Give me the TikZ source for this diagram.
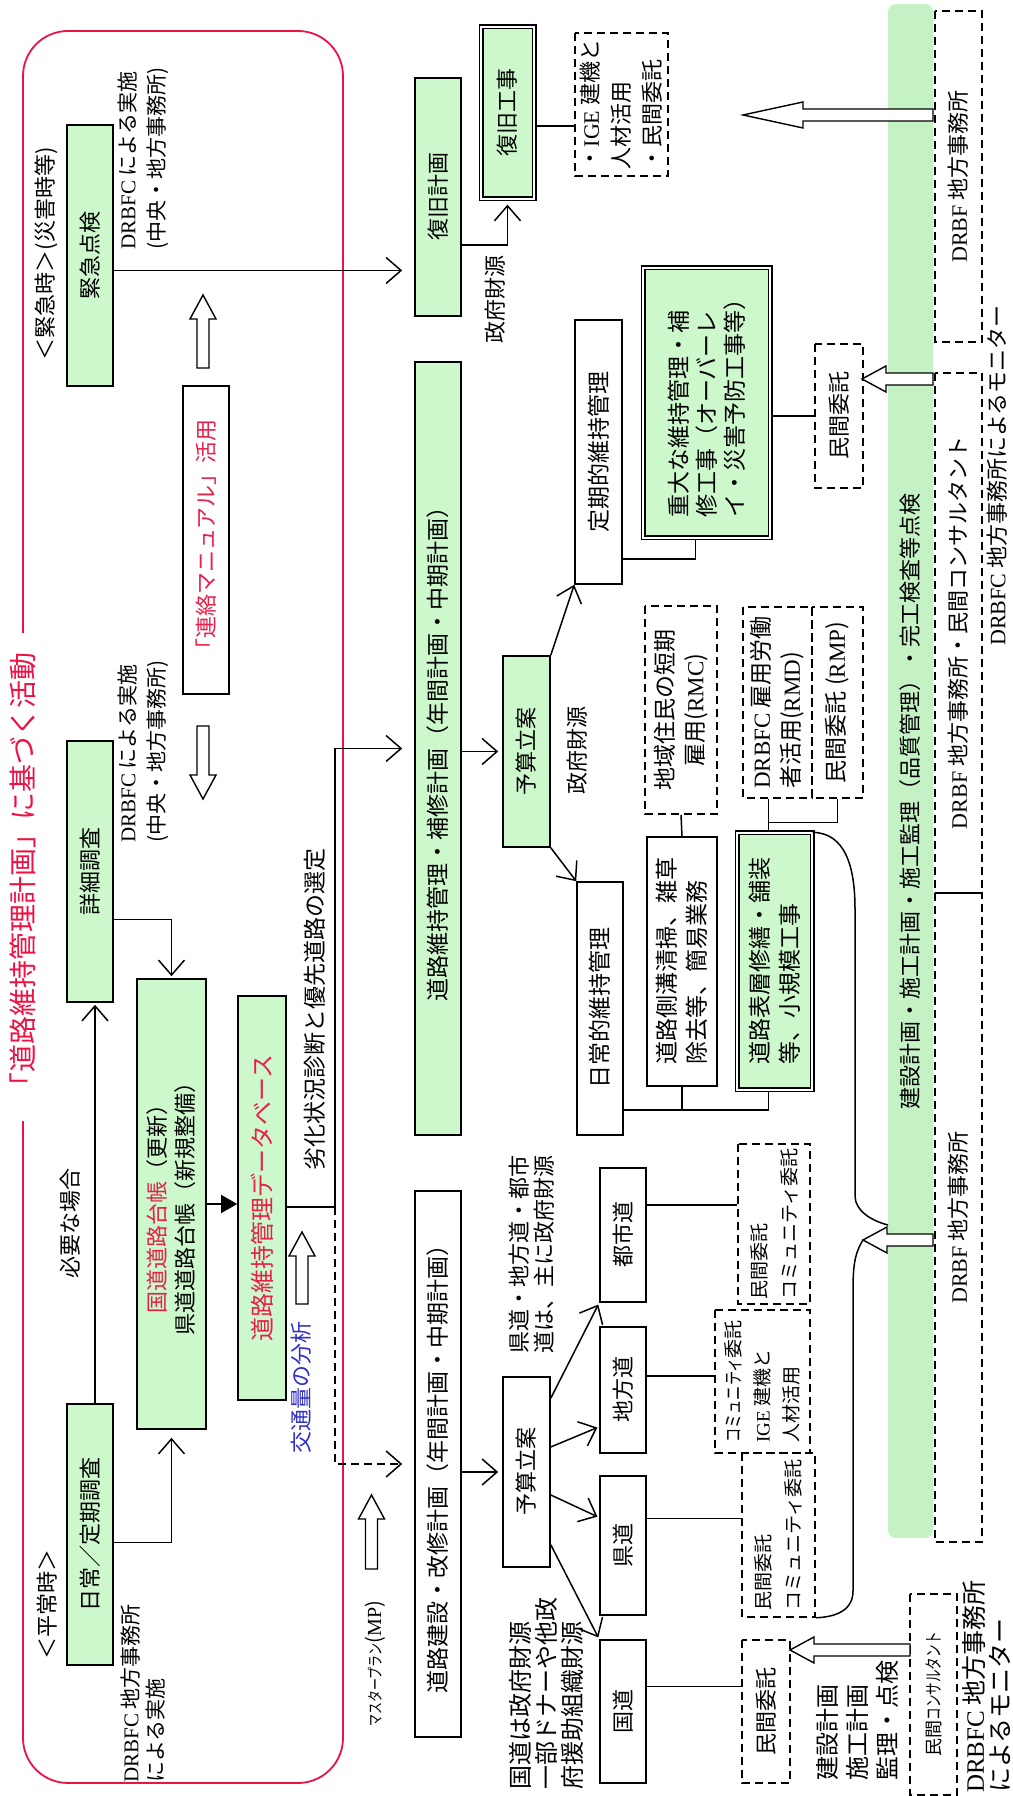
\documentclass[tikz,border=0pt]{standalone}
\usepackage{fontspec}
\setmainfont{Liberation Serif}
\newfontfamily\jpfont{Noto Sans CJK JP}
\usetikzlibrary{arrows.meta, calc}
\definecolor{boxgreen}{HTML}{CCF8CC}
\definecolor{bandgreen}{HTML}{C4F2C4}
\definecolor{framered}{HTML}{EE1144}
\definecolor{notered}{HTML}{E8204A}
\definecolor{noteblue}{HTML}{3030C8}
\newcommand{\enf}[1]{{\rmfamily #1}}
\newcommand{\fsz}[2]{\fontsize{#1}{#2}\selectfont}
% hollow block arrow: [head length] u, v, direction, length
\newcommand{\fatarrow}[5][24]{%
  \begin{scope}[shift={(#2,#3)}, rotate=#4]
    \draw[fill=white, line width=1.4pt] (0,-6) -- ({#5-#1},-6) -- ({#5-#1},-13) -- (#5,0) -- ({#5-#1},13) -- ({#5-#1},6) -- (0,6) -- cycle;
  \end{scope}%
}
\tikzset{
  boxbase/.style={draw, line width=1.6pt, inner sep=1pt, align=center, font=\jpfont\fsz{22}{28}},
  gbox/.style={boxbase, fill=boxgreen},
  wbox/.style={boxbase, fill=white},
  dblbox/.style={gbox, double=white, double distance=2.4pt, line width=1.3pt},
  dashbox/.style={boxbase, dash pattern=on 8pt off 5pt},
  txt/.style={inner sep=0pt, align=left, font=\jpfont\fsz{22}{28}},
  conn/.style={line width=1.5pt},
  arr/.style={conn, -{Straight Barb[length=15pt, width=26pt]}},
}
\begin{document}
\begin{tikzpicture}
\begin{scope}[rotate=90, transform shape, x=1pt, y=-1pt]
  \useasboundingbox (0,0) rectangle (1796,1012);

  % outer frame and title
  \draw[framered, line width=1.8pt, rounded corners=45pt] (13,23) rectangle (1765,343);
  \node[txt, text=framered, fill=white, inner xsep=20pt, inner ysep=3pt, font=\jpfont\fsz{28}{32}] (title) at (919,23) {「道路維持管理計画」に基づく活動};

  % emergency side
  \node[txt] (kinkyuji) at (1542,46) {＜緊急時＞(災害時等)};
  \node[gbox, minimum width=261pt, minimum height=46pt] (kinkyu) at (1540.5,90) {緊急点検};
  \node[txt, anchor=west, font=\jpfont\fsz{21}{29}] (jisshi1) at (1546,143) {\enf{DRBFC} による実施\\(中央・地方事務所)};
  \node[wbox, minimum width=308pt, minimum height=46pt, text=notered] (manual) at (1256,206) {「連絡マニュアル」活用};

  % normal side
  \node[txt] (heijoji) at (191,47) {＜平常時＞};
  \node[gbox, minimum width=261pt, minimum height=46pt] (nichijo) at (261.5,90) {日常／定期調査};
  \node[txt, anchor=west, font=\jpfont\fsz{21}{25}] (jisshi3) at (13,143) {\enf{DRBFC} 地方事務所\\による実施};
  \node[gbox, minimum width=261pt, minimum height=46pt] (shosai) at (924.5,90) {詳細調査};
  \node[txt, anchor=west, font=\jpfont\fsz{21}{29}] (jisshi2) at (953,143) {\enf{DRBFC} による実施\\(中央・地方事務所)};
  \node[txt] (hitsuyo) at (572,70) {必要な場合};
  \node[gbox, minimum width=450pt, minimum height=69pt] (daicho) at (592,171.5) {{\color{notered}国道道路台帳}（更新）\\県道道路台帳（新規整備）};
  \node[gbox, minimum width=404pt, minimum height=48pt, text=notered, font=\jpfont\fsz{24}{28}] (db) at (598,262) {道路維持管理データベース};
  \node[txt, font=\jpfont\fsz{23}{28}] (rekka) at (786,315) {劣化状況診断と優先道路の選定};
  \node[txt, text=noteblue] (kotsu) at (408,301) {交通量の分析};
  \coordinate (jn) at (589,335);

  % recovery
  \node[gbox, minimum width=238pt, minimum height=46pt] (fukkyu) at (1599,438) {復旧計画};
  \node[dblbox, minimum width=172pt, minimum height=53pt] (fkoji) at (1683,507.5) {復旧工事};
  \node[txt] (seifu1) at (1496,495) {政府財源};
  \node[dashbox, minimum width=143pt, minimum height=93pt, align=left, font=\jpfont\fsz{22}{31}] (ige1) at (1691.5,621.5) {・\enf{IGE} 建機と\\人材活用\\・民間委託};

  % maintenance
  \node[gbox, minimum width=773pt, minimum height=46pt, font=\jpfont\fsz{23}{28}] (ijikei) at (1047.5,438) {道路維持管理・補修計画（年間計画・中期計画）};
  \node[gbox, minimum width=191pt, minimum height=47pt] (yosan1) at (1044.5,526.5) {予算立案};
  \node[txt] (seifu2) at (1045,577) {政府財源};
  \node[wbox, minimum width=264pt, minimum height=47pt, font=\jpfont\fsz{23}{28}] (teiki) at (1344,598.5) {定期的維持管理};
  \node[dblbox, minimum width=270pt, minimum height=127pt, align=left, font=\jpfont\fsz{23}{28}] (judai) at (1393,706.5) {重大な維持管理・補\\修工事（オーバーレ\\イ・災害予防工事等）};
  \node[dashbox, minimum width=144pt, minimum height=48pt] (minkan1) at (1380,839) {民間委託};
  \node[wbox, minimum width=253pt, minimum height=46pt, font=\jpfont\fsz{23}{28}] (nichijoiji) at (787.5,600) {日常的維持管理};
  \node[wbox, minimum width=249pt, minimum height=70pt, align=left, font=\jpfont\fsz{23}{30}] (sokko) at (834.5,682) {道路側溝清掃、雑草\\除去等、簡易業務};
  \node[dashbox, minimum width=208pt, minimum height=72pt, font=\jpfont\fsz{23}{30}] (rmc) at (1086,681) {地域住民の短期\\雇用(\enf{RMC})};
  \node[dashbox, minimum width=191pt, minimum height=69pt, align=left, font=\jpfont\fsz{23}{30}] (rmd) at (1093.5,777.5) {\enf{DRBFC} 雇用労働\\者活用(\enf{RMD})};
  \node[dashbox, minimum width=191pt, minimum height=51pt, font=\jpfont\fsz{23}{28}] (rmp) at (1093.5,837.5) {民間委託 (\enf{RMP})};
  \node[dblbox, minimum width=257pt, minimum height=75pt, align=left, font=\jpfont\fsz{23}{30}] (hyoso) at (834.5,774.5) {道路表層修繕・舗装\\等、小規模工事};

  % construction
  \node[wbox, minimum width=546pt, minimum height=46pt, font=\jpfont\fsz{23}{28}] (kensetsu) at (332,438) {道路建設・改修計画（年間計画・中期計画）};
  \node[wbox, minimum width=190pt, minimum height=47pt] (yosan2) at (324,526.5) {予算立案};
  \node[txt, font=\jpfont\fsz{20}{24}] (mp) at (132.5,375) {\scalebox{0.6}[0.8]{マスタープラン}(\enf{MP})};
  \foreach \nm/\pos/\boxw/\lbl in {toshido/561/134/都市道, chihodo/406/126/地方道, kendo/250.5/139/県道, kokudo/84.5/143/国道}
    \node[wbox, minimum width=\boxw pt, minimum height=46pt] (\nm) at (\pos,623) {\lbl};
  \node[txt, font=\jpfont\fsz{22}{25}] (kenro) at (541,532) {県道・地方道・都市\\道は、主に政府財源};
  \node[txt, anchor=west, font=\jpfont\fsz{24}{26}] (kokutxt) at (6,546) {国道は政府財源\\一部ドナーや他政\\府援助組織財源};
  \node[dashbox, minimum width=160pt, minimum height=72pt, align=left, font=\jpfont\fsz{19}{30}] (itaku4) at (572,774) {民間委託\\コミュニティ委託};
  \node[dashbox, minimum width=143pt, minimum height=95pt, align=left, font=\jpfont\fsz{19}{29}] (itaku3) at (414.5,762.5) {\scalebox{0.75}[1]{コミュニティ}委託\\\enf{IGE} 建機と\\人材活用};
  \node[dashbox, minimum width=164pt, minimum height=73pt, align=left, font=\jpfont\fsz{19}{30}] (itaku2) at (261,778.5) {民間委託\\コミュニティ委託};
  \node[dashbox, minimum width=143pt, minimum height=48pt] (itaku1) at (84.5,766) {民間委託};
  \node[txt, anchor=west, font=\jpfont\fsz{24}{30}] (kotei) at (15,857) {建設計画\\施工計画\\監理・点検};

  % supervision band
  \node[fill=bandgreen, rounded corners=8pt, minimum width=1534pt, minimum height=45pt, inner sep=0pt] (band) at (1025,910.5) {};
  \node[txt] (bandtxt) at (994,910) {建設計画・施工計画・施工監理（品質管理）・完工検査等点検};
  \node[dashbox, minimum width=331pt, minimum height=47pt] (drbf1) at (1619.5,958.5) {\enf{DRBF} 地方事務所};
  \node[dashbox, minimum width=520pt, minimum height=47pt] (drbf2) at (1163,958.5) {\enf{DRBF} 地方事務所・民間コンサルタント};
  \node[dashbox, minimum width=649pt, minimum height=47pt] (drbf3) at (578.5,958.5) {\enf{DRBF} 地方事務所};
  \node[txt] (monitor1) at (1320.5,997) {\enf{DRBFC} 地方事務所によるモニター};
  \node[dashbox, minimum width=201pt, minimum height=47pt, font=\jpfont\fsz{18}{22}] (consult) at (101.5,933.5) {民間\scalebox{0.7}[1]{コンサルタント}};
  \node[txt, anchor=west, font=\jpfont\fsz{25}{26}] (monitor2) at (3,987) {\enf{DRBFC} 地方事務所\\によるモニター};

  % connectors
  \coordinate (k1) at ($(kinkyu.south)+(-15,0)$);
  \draw[arr, shorten >=12pt] (k1) -- (k1 |- fukkyu.north);
  \coordinate (f1) at ($(fukkyu.south)+(-48,0)$);
  \draw[arr, shorten >=5pt] (f1) |- (fkoji.west);
  \coordinate (f2) at ($(fkoji.south)+(-13,0)$);
  \draw[conn] (f2) -- (f2 |- ige1.north);
  \coordinate (s1) at ($(shosai.south)+(-48,0)$);
  \draw[arr, shorten >=2pt] (s1) |- (daicho.east);
  \draw[arr, shorten >=2pt] ($(nichijo.east)+(0,5)$) -- ($(shosai.west)+(0,5)$);
  \coordinate (n1) at ($(nichijo.south)+(-8,0)$);
  \draw[arr, shorten >=8pt] (n1) |- (daicho.west);
  \draw[conn, -{Triangle[length=16pt, width=18pt]}] (daicho.south) -- (daicho.south |- db.north);
  \draw[arr, shorten >=12pt] (db.south -| jn) -- (jn) -- (jn -| ijikei.north) -- (ijikei.north);
  \draw[arr, dash pattern=on 8pt off 5pt, shorten >=12pt] (jn) -- (jn -| kensetsu.north) -- (kensetsu.north);
  \draw[arr, shorten >=4pt] (ijikei.south -| yosan1.north) -- (yosan1.north);
  \draw[arr] (yosan1.south east) -- (teiki.north west);
  \draw[arr] (yosan1.south west) -- (nichijoiji.north east);
  \coordinate (t1) at ($(teiki.south west)+(26,0)$);
  \draw[conn] (t1) |- ($(judai.west)+(0,-11)$);
  \draw[conn] (minkan1.north |- judai.south) -- (minkan1.north);
  \coordinate (d1) at ($(nichijoiji.south west)+(26,0)$);
  \draw[conn] (d1) |- ($(hyoso.west)+(0,-6)$);
  \draw[conn] (d1 |- sokko.west) -- (sokko.west);
  \draw[conn] (sokko.east) -- (rmc.west);
  \coordinate (h1) at ($(hyoso.east)+(0,-6)$);
  \draw[conn] (h1) -- (h1 -| rmd.west);
  \coordinate (h2) at ($(h1)+(10,0)$);
  \draw[conn] (h2) |- (rmp.west);
  \draw[arr, shorten >=4pt] (kensetsu.south -| yosan2.north) -- (yosan2.north);
  \draw[arr, shorten >=2pt] ($(yosan2.south east)+(-22,0)$) -- (toshido.north west);
  \draw[arr, shorten >=2pt] ($(yosan2.south)+(25,0)$) -- ($(chihodo.north west)+(27,0)$);
  \draw[arr, shorten >=2pt] ($(yosan2.south)+(-23,0)$) -- ($(kendo.north)+(28,0)$);
  \draw[arr, shorten >=2pt] ($(yosan2.south west)+(23,0)$) -- (kokudo.north east);
  \coordinate (r1) at ($(toshido.south)+(30,0)$);
  \draw[conn] (r1) -- (r1 |- itaku4.north);
  \coordinate (r2) at ($(chihodo.south)+(14,0)$);
  \draw[conn] (r2) -- (r2 |- itaku3.north);
  \coordinate (r3) at ($(kendo.south)+(27,0)$);
  \draw[conn] (r3) -- (r3 |- itaku2.north);
  \coordinate (r4) at ($(kokudo.south)+(25,0)$);
  \draw[conn] (r4) -- (r4 |- itaku1.north);

  % brace under the works
  \coordinate (btip) at (556,863);
  \draw[conn] (hyoso.south east) .. controls (963,845) and (930,855) .. (887,855) -- (600,855) .. controls (585,855) and (575,872) .. (571,888);
  \draw[conn] (btip) .. controls (540,853) and (525,853) .. (498,853) -- (205,853) .. controls (185,853) and (179,835) .. (itaku2.south west);

  % hollow arrows
  \fatarrow{1428}{203}{0}{73}
  \fatarrow{1070}{203}{180}{73}
  \fatarrow{492}{302}{0}{72}
  \fatarrow{227}{371.5}{0}{74}
  \fatarrow[60]{1681}{933}{90}{190}
  \fatarrow{1417}{933}{90}{71}
  \fatarrow{556}{933}{90}{70}
  \fatarrow{146}{910}{90}{120}
\end{scope}
\end{tikzpicture}
\end{document}
